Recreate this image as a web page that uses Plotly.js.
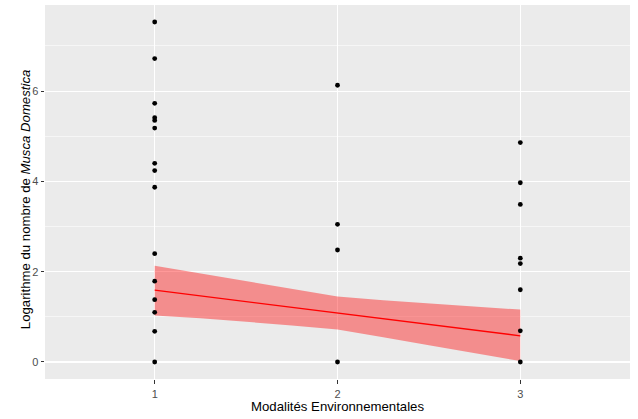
<!DOCTYPE html>
<html>
<head>
<meta charset="utf-8">
<script src="https://cdn.plot.ly/plotly-3.0.1.min.js"></script>
<style>
  html, body { margin: 0; padding: 0; background: #ffffff; }
  #chart { width: 638px; height: 419px; }
</style>
</head>
<body>
<div id="chart"></div>
<script>
// Observations: log counts of Musca domestica per environmental modality
const modalite = [
  1, 1, 1, 1, 1, 1, 1, 1, 1, 1, 1, 1, 1, 1, 1,
  2, 2, 2, 2,
  3, 3, 3, 3, 3, 3, 3, 3
];
const logAbondance = [
  7.53, 6.72, 5.73, 5.41, 5.35, 5.18, 4.40, 4.24, 3.87, 2.40, 1.79, 1.38, 1.10, 0.68, 0.00,
  6.13, 3.05, 2.48, 0.00,
  4.86, 3.97, 3.49, 2.30, 2.18, 1.60, 0.69, 0.00
];

// Fitted trend with its confidence band
const ajustX = [1, 1.25, 1.5, 1.75, 2, 2.25, 2.5, 2.75, 3];
const ajustY = [1.59, 1.465, 1.34, 1.215, 1.09, 0.96, 0.83, 0.705, 0.58];
const bandeHaute = [2.13, 1.96, 1.79, 1.61, 1.45, 1.37, 1.30, 1.22, 1.16];
const bandeBasse = [1.03, 0.97, 0.89, 0.81, 0.72, 0.55, 0.37, 0.19, 0.02];

const xTicks = [1, 2, 3];
const xTickLabels = ['1', '2', '3'];
const yTicks = [0, 2, 4, 6];
const yTickLabels = ['0', '2', '4', '6'];
const yMinor = [1, 3, 5, 7];

const titreX = 'Modalités Environnementales';
const titreY = 'Logarithme du nombre de <i>Musca Domestica</i>';

const police = '"Liberation Sans", Arial, sans-serif';

const traces = [
  {
    x: ajustX.concat(ajustX.slice().reverse()),
    y: bandeHaute.concat(bandeBasse.slice().reverse()),
    type: 'scatter',
    mode: 'lines',
    fill: 'toself',
    fillcolor: 'rgba(255,0,0,0.4)',
    line: { width: 0, color: 'rgba(0,0,0,0)' },
    hoverinfo: 'skip',
    showlegend: false
  },
  {
    x: modalite,
    y: logAbondance,
    type: 'scatter',
    mode: 'markers',
    marker: { color: '#000000', size: 4.8 },
    showlegend: false
  },
  {
    x: ajustX,
    y: ajustY,
    type: 'scatter',
    mode: 'lines',
    line: { color: '#FF0000', width: 1.3 },
    showlegend: false
  }
];

const layout = {
  width: 638,
  height: 419,
  margin: { l: 45, r: 8, t: 5, b: 40, pad: 0 },
  paper_bgcolor: '#FFFFFF',
  plot_bgcolor: '#EBEBEB',
  font: { family: police, color: '#000000' },
  showlegend: false,
  xaxis: {
    range: [0.4, 3.6],
    tickmode: 'array',
    tickvals: xTicks,
    ticktext: xTickLabels,
    ticks: 'outside',
    ticklen: 3.5,
    tickwidth: 1,
    tickcolor: '#333333',
    ticklabelstandoff: 1,
    tickfont: { family: police, size: 11, color: '#4D4D4D' },
    showgrid: true,
    gridcolor: '#FFFFFF',
    gridwidth: 1.1,
    zeroline: false,
    showline: false
  },
  yaxis: {
    range: [-0.377, 7.907],
    tickmode: 'array',
    tickvals: yTicks,
    ticktext: yTickLabels,
    ticks: 'outside',
    ticklen: 3.5,
    tickwidth: 1,
    tickcolor: '#333333',
    tickfont: { family: police, size: 11, color: '#4D4D4D' },
    showgrid: true,
    gridcolor: '#FFFFFF',
    gridwidth: 1.1,
    minor: { tickvals: yMinor, showgrid: true, gridcolor: '#FFFFFF', gridwidth: 0.55, ticks: '' },
    zeroline: false,
    showline: false
  },
  annotations: [
    {
      text: titreX,
      xref: 'paper', yref: 'paper',
      x: 0.5, y: -0.073,
      xanchor: 'center', yanchor: 'middle',
      showarrow: false,
      font: { family: police, size: 13.2, color: '#000000' }
    },
    {
      text: titreY,
      xref: 'paper', yref: 'paper',
      x: -0.033, y: 0.48,
      xanchor: 'center', yanchor: 'middle',
      textangle: -90,
      showarrow: false,
      font: { family: police, size: 13.2, color: '#000000' }
    }
  ]
};

Plotly.newPlot('chart', traces, layout, { displayModeBar: false, staticPlot: true });
</script>
</body>
</html>
